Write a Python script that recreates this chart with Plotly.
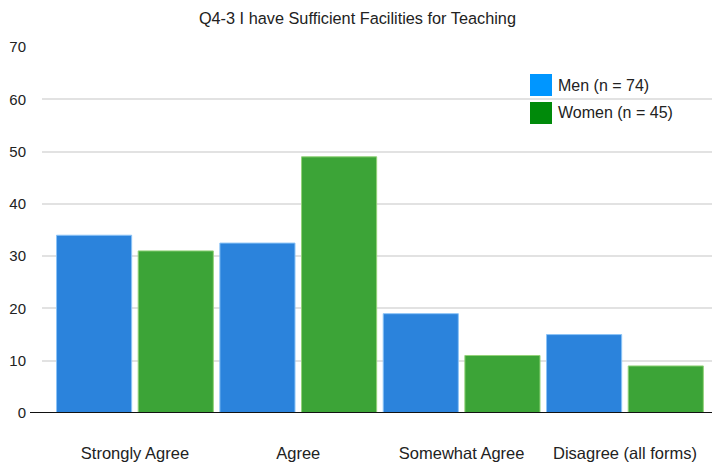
import plotly.graph_objects as go

categories = ["Strongly Agree", "Agree", "Somewhat Agree", "Disagree (all forms)"]
men_values = [34, 32.5, 19, 15]
women_values = [31, 49, 11, 9]
men_name = "Men (n = 74)"
women_name = "Women (n = 45)"
y_ticks = [0, 10, 20, 30, 40, 50, 60, 70]
title_text = "Q4-3 I have Sufficient Facilities for Teaching"

W, H = 712, 464
ML, MR, MT, MB = 42, 0, 47, 51
PW = W - ML - MR
PH = H - MT - MB

def px_x(px):
    return (px - ML) / PW

def px_y(py):
    return 1 - (py - MT) / PH

FONT = "Liberation Sans, Arial, sans-serif"

fig = go.Figure()
fig.add_trace(go.Bar(
    x=categories, y=men_values, name=men_name,
    marker=dict(color="#2b83dc", line=dict(color="#8cc4f7", width=1)),
    showlegend=False, hoverinfo="skip",
))
fig.add_trace(go.Bar(
    x=categories, y=women_values, name=women_name,
    marker=dict(color="#3ca437", line=dict(color="#93d27a", width=1)),
    showlegend=False, hoverinfo="skip",
))

# zero baseline extending slightly left of the plot area
fig.add_shape(type="line", xref="paper", yref="y",
              x0=px_x(30), x1=1.02, y0=0, y1=0,
              line=dict(color="#111111", width=2), layer="above")

# manual legend
legend_items = [(men_name, "#0096ff", 74), (women_name, "#008a0a", 102)]
for name, col, top in legend_items:
    fig.add_shape(type="rect", xref="paper", yref="paper",
                  x0=px_x(530), x1=px_x(552), y0=px_y(top + 22), y1=px_y(top),
                  fillcolor=col, line=dict(color=col, width=0))
    fig.add_annotation(xref="paper", yref="paper", x=px_x(556), y=px_y(top + 11),
                       text=name, showarrow=False, xanchor="left", yanchor="middle",
                       font=dict(family=FONT, size=16, color="#222222"))

fig.update_layout(
    width=W, height=H,
    margin=dict(l=ML, r=MR, t=MT, b=MB, pad=0),
    paper_bgcolor="white", plot_bgcolor="white",
    barmode="group", bargap=0.0, bargroupgap=0.08,
    title=dict(text=title_text, x=0.502, xanchor="center", y=1 - 18 / H, yanchor="middle",
               font=dict(family=FONT, size=16.3, color="#222222")),
    font=dict(family=FONT, color="#222222"),
    xaxis=dict(
        type="category", range=[-0.569, 3.533], showgrid=False, zeroline=False,
        showline=False, ticks="", tickfont=dict(size=16.5, color="#222222"),
        ticklabelstandoff=28,
    ),
    yaxis=dict(
        range=[0, 70], tickvals=y_ticks, showgrid=True, gridcolor="#e2e2e2",
        gridwidth=1.5, zeroline=False, showline=False, ticks="",
        tickfont=dict(size=15, color="#222222"), ticklabelstandoff=15,
    ),
)

fig.write_html("out.html", config={"displayModeBar": False},
               post_script="document.body.style.margin='0';document.body.style.overflow='hidden';")
